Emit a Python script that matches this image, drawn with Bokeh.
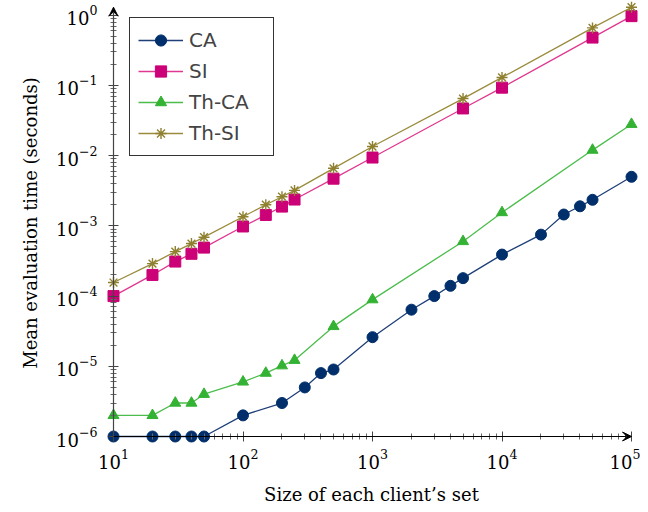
from bokeh.plotting import figure
from bokeh.models import FixedTicker, LogTickFormatter, Arrow, VeeHead, Range1d, Legend
from bokeh.embed import file_html
from bokeh.resources import INLINE

# ---- data ----
ca_x = [10, 20, 30, 40, 50, 100, 200, 300, 400, 500, 1000, 2000, 3000, 4000, 5000,
        10000, 20000, 30000, 40000, 50000, 100000]
ca_y = [1e-6, 1e-6, 1e-6, 1e-6, 1e-6, 2e-6, 3e-6, 5e-6, 8e-6, 9e-6, 2.6e-5, 6.4e-5, 1.0e-4,
        1.4e-4, 1.8e-4, 3.9e-4, 7.5e-4, 1.45e-3, 1.9e-3, 2.35e-3, 5.0e-3]

si_x = [10, 20, 30, 40, 50, 100, 150, 200, 250, 500, 1000, 5000, 10000, 50000, 100000]
si_y = [1.0e-4, 2.0e-4, 3.1e-4, 4.0e-4, 4.9e-4, 9.8e-4, 1.43e-3, 1.88e-3, 2.37e-3, 4.7e-3,
        9.4e-3, 4.7e-2, 9.3e-2, 0.48, 0.97]

thca_x = [10, 20, 30, 40, 50, 100, 150, 200, 250, 500, 1000, 5000, 10000, 50000, 100000]
thca_y = [2e-6, 2e-6, 3e-6, 3e-6, 4e-6, 6e-6, 8e-6, 1.02e-5, 1.22e-5, 3.7e-5, 8.9e-5,
          6.0e-4, 1.55e-3, 1.2e-2, 2.8e-2]

thsi_x = [10, 20, 30, 40, 50, 100, 150, 200, 250, 500, 1000, 5000, 10000, 50000, 100000]
thsi_y = [1.56e-4, 2.9e-4, 4.3e-4, 5.6e-4, 6.9e-4, 1.35e-3, 2.0e-3, 2.6e-3, 3.2e-3, 6.6e-3,
          1.35e-2, 6.5e-2, 0.13, 0.66, 1.3]

x_major = [1e1, 1e2, 1e3, 1e4, 1e5]
y_major = [1e-6, 1e-5, 1e-4, 1e-3, 1e-2, 1e-1, 1e0]

series = [
    ("CA", ca_x, ca_y, "circle", "#002f6c", "#1f3f78"),
    ("SI", si_x, si_y, "square", "#cc0077", "#e0388f"),
    ("Th-CA", thca_x, thca_y, "triangle", "#33b233", "#4cbd4c"),
    ("Th-SI", thsi_x, thsi_y, "asterisk", "#8f8030", "#9a8c3c"),
]

SERIF = "DejaVu Serif"

all_x = [v for s in series for v in s[1]]
all_y = [v for s in series for v in s[2]]

p = figure(
    x_axis_type="log", y_axis_type="log",
    x_range=Range1d(min(all_x) / 10 ** 0.0695, max(all_x) * 10 ** 0.054),
    y_range=Range1d(min(all_y) / 10 ** 0.128, 1.62),
    frame_width=534, frame_height=445,
    min_border_left=104, min_border_right=2, min_border_top=0, min_border_bottom=59,
    output_backend="svg", toolbar_location=None,
)
p.outline_line_color = None
p.xgrid.visible = False
p.ygrid.visible = False
p.background_fill_color = "white"

x_minor = [m * d for d in x_major[:-1] for m in range(2, 10)]
y_minor = [m * d for d in y_major[:-1] for m in range(2, 10)]

p.xaxis.ticker = FixedTicker(ticks=x_major, minor_ticks=x_minor)
p.yaxis.ticker = FixedTicker(ticks=y_major, minor_ticks=y_minor)
p.xaxis.formatter = LogTickFormatter()
p.yaxis.formatter = LogTickFormatter()

for ax in (p.xaxis[0], p.yaxis[0]):
    ax.axis_line_color = None
    ax.major_tick_line_color = "#444444"
    ax.minor_tick_line_color = "#666666"
    ax.major_tick_in = 14
    ax.major_tick_out = -4
    ax.minor_tick_in = 12
    ax.minor_tick_out = -6
    ax.major_label_text_font = SERIF
    ax.major_label_text_font_size = "18px"
    ax.major_label_text_color = "black"
    ax.axis_label_text_font = SERIF
    ax.axis_label_text_font_size = "18px"
    ax.axis_label_text_font_style = "normal"
    ax.axis_label_text_color = "black"

p.xaxis.major_label_standoff = 7
p.yaxis.major_label_standoff = 11
p.xaxis.axis_label = "Size of each client\u2019s set"
p.yaxis.axis_label = "Mean evaluation time (seconds)"
p.xaxis.axis_label_standoff = 12
p.yaxis.axis_label_standoff = 12

# axis lines with arrow heads at the data limits
p.add_layout(Arrow(end=VeeHead(size=9, fill_color="black", line_color="black", line_width=1),
                   x_start=min(all_x), y_start=min(all_y), x_end=max(all_x), y_end=min(all_y),
                   line_color="black", line_width=1.2))
p.add_layout(Arrow(end=VeeHead(size=9, fill_color="black", line_color="black", line_width=1),
                   x_start=min(all_x), y_start=min(all_y), x_end=min(all_x), y_end=max(all_y),
                   line_color="#444444", line_width=1.2))

items = []
for name, xs, ys, marker, col, lcol in series:
    r1 = p.line(xs, ys, line_color=lcol, line_width=1.3)
    if marker == "asterisk":
        r2 = p.scatter(xs, ys, marker=marker, size=11, line_color=col, line_width=1.4)
    else:
        r2 = p.scatter(xs, ys, marker=marker, size=11, fill_color=col, line_color=col)
    items.append((name, [r1, r2]))

legend = Legend(items=items, location=(25, 289))
legend.border_line_color = "black"
legend.border_line_width = 1.3
legend.border_line_alpha = 0.8
legend.background_fill_color = "white"
legend.background_fill_alpha = 1
legend.label_text_font = "DejaVu Sans"
legend.label_text_font_size = "20px"
legend.glyph_width = 45
legend.glyph_height = 28
legend.label_height = 28
legend.label_width = 76
legend.label_standoff = 6
legend.spacing = 3
legend.padding = 8
legend.margin = 0
p.add_layout(legend, "center")

open("out.html", "w").write(file_html(p, INLINE))
